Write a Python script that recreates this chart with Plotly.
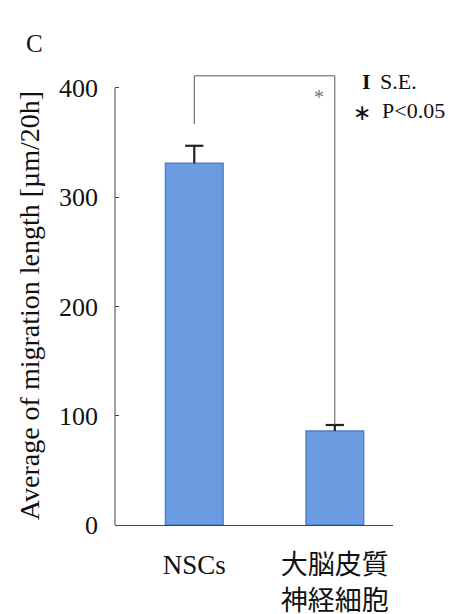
import plotly.graph_objects as go

categories = ["NSCs", "大脳皮質<br>神経細胞"]
means = [331, 86]
se = [16, 5.5]
ytick_vals = [0, 100, 200, 300, 400]
bracket_top = 411
sig_label = "*"

SERIF = "Liberation Serif, Times New Roman, Noto Sans CJK JP, serif"
xpos = list(range(len(categories)))
err_top = [m + s for m, s in zip(means, se)]

fig = go.Figure()
fig.add_trace(go.Bar(
    x=xpos, y=means, width=0.41,
    marker=dict(color="#6b9be0", line=dict(color="#4d80cc", width=1.5)),
    error_y=dict(type="data", array=se, arrayminus=[0] * len(se), symmetric=False,
                 color="#222222", thickness=2.2, width=0),
    showlegend=False, hoverinfo="skip",
))
# caps of the upward-only error bars
fig.add_trace(go.Scatter(
    x=xpos, y=err_top, mode="markers",
    marker=dict(symbol="line-ew", size=13, line=dict(color="#222222", width=2.2)),
    showlegend=False, hoverinfo="skip", cliponaxis=False,
))

# significance bracket
fig.add_trace(go.Scatter(
    x=[xpos[0], xpos[0], xpos[1], xpos[1]],
    y=[err_top[0] + 20, bracket_top, bracket_top, err_top[1]],
    mode="lines", line=dict(color="#555555", width=1),
    showlegend=False, hoverinfo="skip",
))

fig.add_shape(type="line", xref="paper", yref="y", x0=0, x1=0, y0=0, y1=400,
              line=dict(color="#444444", width=1))

def a(text, x, y, font, xref="paper", yref="paper", **kw):
    d = dict(text=text, x=x, y=y, xref=xref, yref=yref, showarrow=False,
             xanchor="center", yanchor="middle", font=font)
    d.update(kw)
    return d

ann = [
    a("C", -0.291, 1.050, dict(family=SERIF, size=25, color="#111")),
    a("Average of migration length [µm/20h]", -0.309, 0.477,
      dict(family=SERIF, size=28, color="#111"), textangle=-90),
    a(sig_label, 0.89, 392, dict(family=SERIF, size=20, color="#777777"), xref="x", yref="y"),
    a("<b>I</b>", 0.903, 0.967, dict(family=SERIF, size=22, color="#111")),
    a("S.E.", 0.946, 0.967, dict(family=SERIF, size=22, color="#111"), xanchor="left"),
    a("∗", 0.888, 0.898, dict(family="DejaVu Sans", size=22, color="#111")),
    a("P<0.05", 0.953, 0.904, dict(family=SERIF, size=22, color="#111"), xanchor="left"),
]

fig.update_layout(
    width=460, height=614,
    margin=dict(l=107, r=75, t=58, b=97),
    paper_bgcolor="white", plot_bgcolor="white",
    annotations=ann,
    xaxis=dict(range=[-0.564, 1.414], tickvals=xpos, ticktext=categories,
               showline=True, linecolor="#444444", linewidth=1, ticks="",
               showgrid=False, zeroline=False, ticklabelstandoff=16, automargin=False,
               tickfont=dict(family=SERIF, size=27, color="#111")),
    yaxis=dict(range=[0, 420], tickvals=ytick_vals, showline=False,
               ticks="inside", ticklen=4, tickcolor="#444444",
               showgrid=False, zeroline=False, ticklabelstandoff=16, automargin=False,
               tickfont=dict(family=SERIF, size=26, color="#111")),
)
fig.write_html("out.html")
